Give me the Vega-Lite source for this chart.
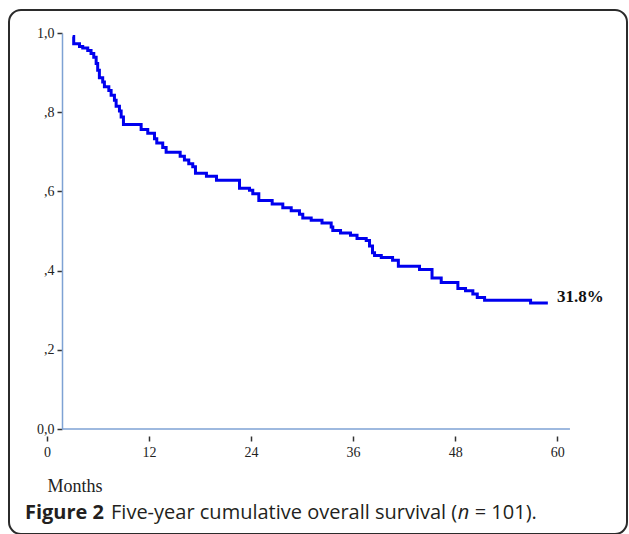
{
  "$schema": "https://vega.github.io/schema/vega-lite/v6.json",
  "width": 618,
  "height": 524,
  "autosize": "none",
  "padding": {"left": 9, "top": 10, "right": 2, "bottom": 0},
  "background": "white",
  "view": {"stroke": "#2b2b2b", "strokeWidth": 2, "cornerRadius": 12},
  "config": {"axis": {"grid": false}},
  "datasets": {
    "km": [
      {"month": 3.02, "surv": 0.991},
      {"month": 3.14, "surv": 0.973},
      {"month": 3.82, "surv": 0.966},
      {"month": 4.20, "surv": 0.962},
      {"month": 4.79, "surv": 0.956},
      {"month": 5.18, "surv": 0.948},
      {"month": 5.50, "surv": 0.939},
      {"month": 5.78, "surv": 0.923},
      {"month": 5.96, "surv": 0.906},
      {"month": 6.16, "surv": 0.887},
      {"month": 6.55, "surv": 0.876},
      {"month": 6.75, "surv": 0.864},
      {"month": 7.27, "surv": 0.855},
      {"month": 7.54, "surv": 0.843},
      {"month": 7.93, "surv": 0.830},
      {"month": 8.13, "surv": 0.815},
      {"month": 8.52, "surv": 0.803},
      {"month": 8.72, "surv": 0.788},
      {"month": 8.99, "surv": 0.769},
      {"month": 11.07, "surv": 0.756},
      {"month": 11.85, "surv": 0.747},
      {"month": 12.64, "surv": 0.733},
      {"month": 12.91, "surv": 0.722},
      {"month": 13.61, "surv": 0.711},
      {"month": 14.01, "surv": 0.699},
      {"month": 15.66, "surv": 0.689},
      {"month": 16.16, "surv": 0.679},
      {"month": 16.67, "surv": 0.670},
      {"month": 17.14, "surv": 0.662},
      {"month": 17.46, "surv": 0.646},
      {"month": 18.75, "surv": 0.638},
      {"month": 19.93, "surv": 0.628},
      {"month": 22.64, "surv": 0.608},
      {"month": 23.81, "surv": 0.603},
      {"month": 24.20, "surv": 0.594},
      {"month": 24.91, "surv": 0.577},
      {"month": 26.48, "surv": 0.568},
      {"month": 27.73, "surv": 0.559},
      {"month": 28.72, "surv": 0.551},
      {"month": 29.69, "surv": 0.542},
      {"month": 30.08, "surv": 0.533},
      {"month": 31.07, "surv": 0.527},
      {"month": 32.34, "surv": 0.520},
      {"month": 33.42, "surv": 0.510},
      {"month": 33.61, "surv": 0.501},
      {"month": 34.52, "surv": 0.495},
      {"month": 35.69, "surv": 0.489},
      {"month": 36.46, "surv": 0.481},
      {"month": 37.54, "surv": 0.476},
      {"month": 37.93, "surv": 0.462},
      {"month": 38.28, "surv": 0.445},
      {"month": 38.52, "surv": 0.438},
      {"month": 39.31, "surv": 0.433},
      {"month": 40.64, "surv": 0.426},
      {"month": 41.32, "surv": 0.411},
      {"month": 43.81, "surv": 0.403},
      {"month": 45.28, "surv": 0.381},
      {"month": 46.36, "surv": 0.370},
      {"month": 48.32, "surv": 0.355},
      {"month": 49.22, "surv": 0.349},
      {"month": 50.08, "surv": 0.341},
      {"month": 50.60, "surv": 0.332},
      {"month": 51.46, "surv": 0.325},
      {"month": 56.87, "surv": 0.318},
      {"month": 58.90, "surv": 0.318}
    ]
  },
  "layer": [
    {
      "data": {"name": "km"},
      "mark": {"type": "line", "interpolate": "step-after", "color": "#0000ee", "strokeWidth": 3},
      "encoding": {
        "x": {
          "field": "month", "type": "quantitative",
          "scale": {"domain": [0, 60], "range": [38, 548.2], "nice": false, "zero": false},
          "axis": {
            "values": [0, 12, 24, 36, 48, 60],
            "offset": -98,
            "domain": false,
            "labelFlush": false,
            "tickColor": "#333333", "tickSize": 5, "tickWidth": 1.5,
            "labelFont": "Liberation Serif", "labelFontSize": 14, "labelColor": "#222222", "labelPadding": 4,
            "title": "Months",
            "titleFont": "Liberation Serif", "titleFontSize": 18, "titleFontWeight": "normal", "titleColor": "#222222",
            "titleAnchor": "start", "titleAlign": "left", "titlePadding": 18
          }
        },
        "y": {
          "field": "surv", "type": "quantitative",
          "scale": {"domain": [0, 1], "range": [419, 23], "nice": false},
          "axis": {
            "values": [0, 0.2, 0.4, 0.6, 0.8, 1],
            "labelExpr": "datum.value == 0 ? '0,0' : replace(replace(format(datum.value, '.1f'), '0.', ','), '.', ',')",
            "offset": -53,
            "labelFlush": false,
            "domainColor": "#7ea2d4", "domainWidth": 1.5,
            "tickColor": "#333333", "tickSize": 5, "tickWidth": 1.5,
            "labelFont": "Liberation Serif", "labelFontSize": 14, "labelColor": "#222222", "labelPadding": 3,
            "title": null
          }
        }
      }
    },
    {
      "data": {"values": [{"part": "baseline"}]},
      "mark": {"type": "rule", "color": "#7ea2d4", "strokeWidth": 1.5},
      "encoding": {
        "x": {"datum": 1.8, "type": "quantitative"},
        "x2": {"datum": 61.5},
        "y": {"datum": 0, "type": "quantitative"}
      }
    },
    {
      "data": {"values": [{"label": "31.8%"}]},
      "mark": {"type": "text", "align": "left", "baseline": "middle", "font": "Liberation Serif", "fontSize": 17, "fontWeight": "bold", "color": "#111111"},
      "encoding": {
        "x": {"datum": 59.98, "type": "quantitative"},
        "y": {"datum": 0.333, "type": "quantitative"},
        "text": {"field": "label"}
      }
    },
    {
      "data": {"values": [{"label": "Figure 2"}]},
      "mark": {"type": "text", "align": "left", "baseline": "middle", "font": "Open Sans", "fontSize": 20, "fontWeight": "bold", "color": "#231f20"},
      "encoding": {
        "x": {"datum": -2.59, "type": "quantitative"},
        "y": {"datum": -0.212, "type": "quantitative"},
        "text": {"field": "label"}
      }
    },
    {
      "data": {"values": [{"label": "Five-year cumulative overall survival ("}]},
      "mark": {"type": "text", "align": "left", "baseline": "middle", "font": "Open Sans", "fontSize": 20, "color": "#231f20"},
      "encoding": {
        "x": {"datum": 7.53, "type": "quantitative"},
        "y": {"datum": -0.212, "type": "quantitative"},
        "text": {"field": "label"}
      }
    },
    {
      "data": {"values": [{"label": "n"}]},
      "mark": {"type": "text", "align": "left", "baseline": "middle", "font": "Open Sans", "fontSize": 20, "fontStyle": "italic", "color": "#231f20"},
      "encoding": {
        "x": {"datum": 48.3, "type": "quantitative"},
        "y": {"datum": -0.212, "type": "quantitative"},
        "text": {"field": "label"}
      }
    },
    {
      "data": {"values": [{"label": "= 101)."}]},
      "mark": {"type": "text", "align": "left", "baseline": "middle", "font": "Open Sans", "fontSize": 20, "color": "#231f20"},
      "encoding": {
        "x": {"datum": 50.3, "type": "quantitative"},
        "y": {"datum": -0.212, "type": "quantitative"},
        "text": {"field": "label"}
      }
    }
  ]
}
